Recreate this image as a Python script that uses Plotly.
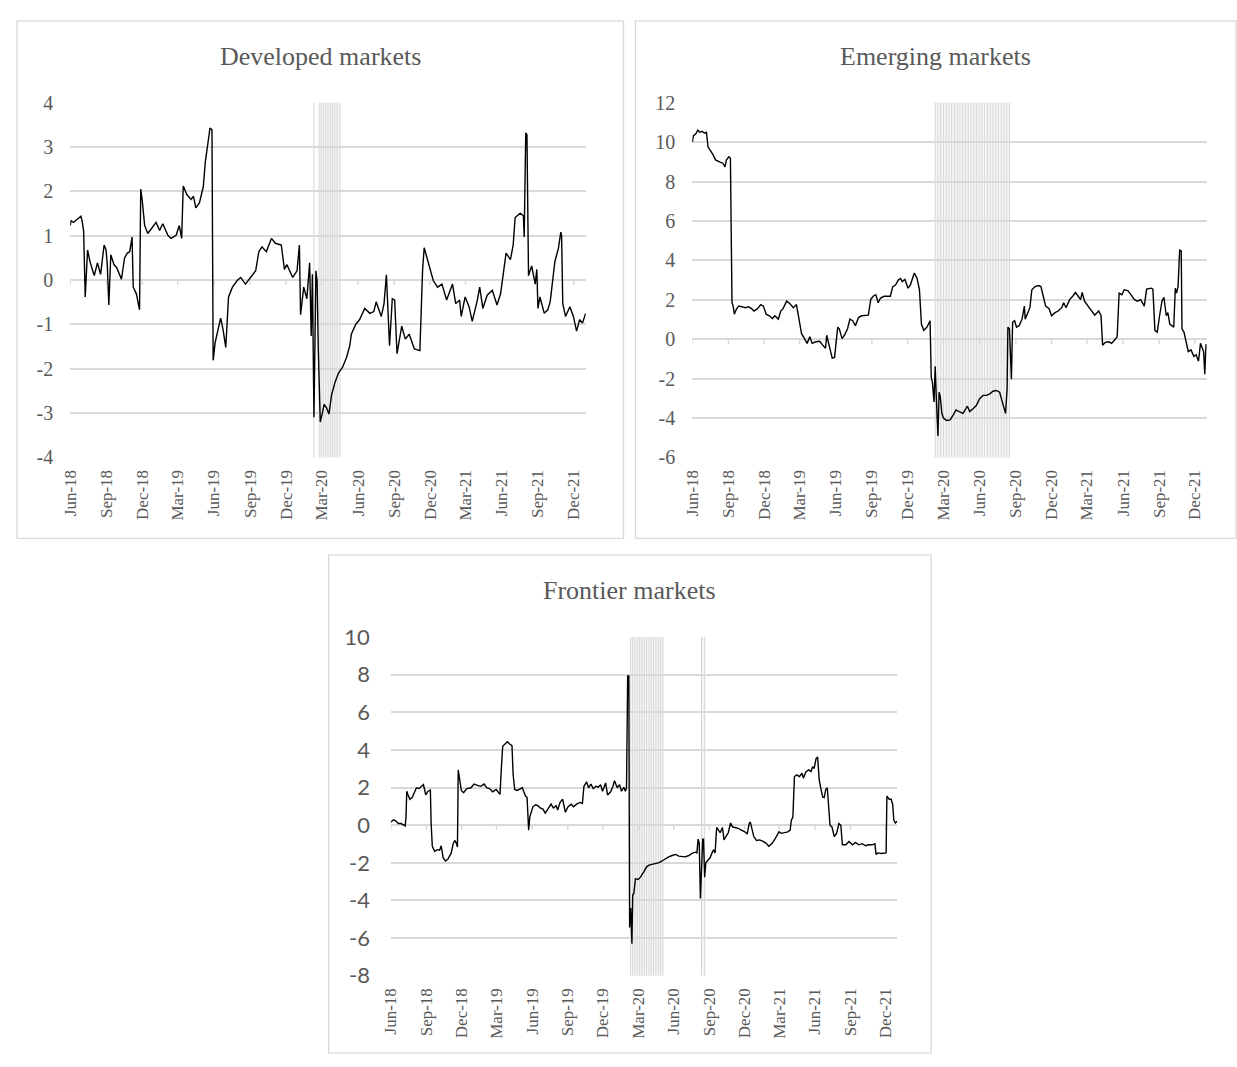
import plotly.graph_objects as go

# ---------------- data ----------------
dev_dates = ["2018-06-01","2018-06-03","2018-06-09","2018-06-22","2018-06-28","2018-07-01","2018-07-05","2018-07-09","2018-07-15","2018-07-21","2018-07-28","2018-08-01","2018-08-09","2018-08-17","2018-08-26","2018-08-31","2018-09-03","2018-09-07","2018-09-12","2018-09-20","2018-09-27","2018-10-09","2018-10-17","2018-10-24","2018-10-30","2018-11-05","2018-11-08","2018-11-16","2018-11-24","2018-11-27","2018-12-01","2018-12-07","2018-12-15","2018-12-24","2019-01-05","2019-01-14","2019-01-22","2019-02-04","2019-02-12","2019-02-25","2019-03-05","2019-03-11","2019-03-15","2019-03-24","2019-04-04","2019-04-10","2019-04-16","2019-04-25","2019-05-03","2019-05-05","2019-05-10","2019-05-16","2019-05-22","2019-05-27","2019-05-30","2019-06-04","2019-06-13","2019-06-18","2019-06-24","2019-07-01","2019-07-08","2019-07-18","2019-07-30","2019-08-08","2019-08-20","2019-09-02","2019-09-15","2019-09-23","2019-10-01","2019-10-12","2019-10-25","2019-11-04","2019-11-19","2019-11-27","2019-12-03","2019-12-18","2019-12-29","2020-01-04","2020-01-07","2020-01-15","2020-01-23","2020-01-30","2020-02-03","2020-02-06","2020-02-10","2020-02-15","2020-02-18","2020-02-21","2020-02-26","2020-03-01","2020-03-07","2020-03-13","2020-03-19","2020-03-26","2020-04-03","2020-04-12","2020-04-23","2020-05-03","2020-05-11","2020-05-15","2020-05-26","2020-06-05","2020-06-18","2020-07-01","2020-07-11","2020-07-17","2020-07-30","2020-08-06","2020-08-12","2020-08-20","2020-08-27","2020-09-02","2020-09-08","2020-09-20","2020-09-29","2020-10-09","2020-10-22","2020-11-05","2020-11-12","2020-11-16","2020-11-27","2020-12-09","2020-12-20","2020-12-31","2021-01-12","2021-01-27","2021-02-04","2021-02-14","2021-02-18","2021-02-28","2021-03-10","2021-03-18","2021-03-31","2021-04-06","2021-04-14","2021-04-25","2021-05-08","2021-05-20","2021-05-29","2021-06-04","2021-06-12","2021-06-23","2021-06-30","2021-07-05","2021-07-18","2021-07-26","2021-07-28","2021-08-01","2021-08-04","2021-08-08","2021-08-16","2021-08-25","2021-08-29","2021-09-01","2021-09-06","2021-09-17","2021-09-26","2021-10-02","2021-10-08","2021-10-14","2021-10-23","2021-10-29","2021-10-31","2021-11-03","2021-11-10","2021-11-21","2021-11-30","2021-12-08","2021-12-16","2021-12-23","2021-12-31"]
dev_vals = [1.23,1.34,1.30,1.41,1.44,1.34,1.10,-0.38,0.68,0.42,0.24,0.10,0.39,0.13,0.79,0.68,0.35,-0.56,0.57,0.35,0.28,0.02,0.50,0.61,0.64,0.97,-0.16,-0.31,-0.67,2.05,1.78,1.23,1.05,1.16,1.30,1.12,1.27,1.01,0.94,1.01,1.23,0.94,2.12,1.93,1.82,1.89,1.63,1.74,2.00,2.11,2.66,3.03,3.43,3.39,-1.81,-1.41,-1.04,-0.86,-1.11,-1.52,-0.38,-0.16,-0.01,0.06,-0.09,0.06,0.21,0.64,0.75,0.64,0.94,0.83,0.79,0.24,0.35,0.06,0.21,0.79,-0.78,-0.16,-0.42,0.39,-1.26,0.13,-3.09,0.21,-0.01,-1.55,-3.20,-3.05,-2.80,-2.88,-3.02,-2.58,-2.32,-2.10,-1.96,-1.74,-1.48,-1.22,-1.00,-0.89,-0.64,-0.75,-0.71,-0.49,-0.82,-0.53,0.12,-1.48,-0.42,-0.45,-1.66,-1.04,-1.33,-1.22,-1.55,-1.59,0.24,0.73,0.39,-0.01,-0.16,-0.09,-0.45,-0.09,-0.53,-0.45,-0.82,-0.38,-0.60,-0.93,-0.45,-0.16,-0.64,-0.34,-0.23,-0.56,-0.31,0.06,0.61,0.46,0.79,1.41,1.51,1.45,0.97,3.32,3.28,0.10,0.32,-0.09,0.24,-0.64,-0.38,-0.75,-0.67,-0.49,0.02,0.42,0.72,1.08,1.01,-0.53,-0.82,-0.60,-0.82,-1.15,-0.89,-0.97,-0.75]

emg_dates = ["2018-06-01","2018-06-04","2018-06-10","2018-06-15","2018-06-20","2018-06-26","2018-07-02","2018-07-07","2018-07-11","2018-07-17","2018-07-24","2018-07-30","2018-08-05","2018-08-12","2018-08-18","2018-08-23","2018-08-27","2018-09-02","2018-09-06","2018-09-08","2018-09-10","2018-09-13","2018-09-16","2018-09-21","2018-09-27","2018-10-05","2018-10-14","2018-10-22","2018-10-30","2018-11-05","2018-11-14","2018-11-22","2018-11-29","2018-12-06","2018-12-14","2018-12-22","2018-12-28","2019-01-06","2019-01-12","2019-01-18","2019-01-27","2019-02-04","2019-02-13","2019-02-21","2019-02-28","2019-03-06","2019-03-11","2019-03-20","2019-03-27","2019-04-02","2019-04-11","2019-04-21","2019-04-29","2019-05-06","2019-05-09","2019-05-16","2019-05-23","2019-05-29","2019-06-02","2019-06-06","2019-06-10","2019-06-17","2019-06-23","2019-07-01","2019-07-07","2019-07-14","2019-07-21","2019-07-29","2019-08-06","2019-08-15","2019-08-23","2019-08-29","2019-09-04","2019-09-11","2019-09-17","2019-09-23","2019-10-02","2019-10-10","2019-10-18","2019-10-24","2019-10-31","2019-11-07","2019-11-13","2019-11-17","2019-11-24","2019-12-02","2019-12-08","2019-12-12","2019-12-18","2019-12-25","2019-12-31","2020-01-05","2020-01-11","2020-01-19","2020-01-27","2020-01-30","2020-02-02","2020-02-06","2020-02-09","2020-02-12","2020-02-16","2020-02-19","2020-02-22","2020-02-26","2020-03-01","2020-03-09","2020-03-18","2020-03-26","2020-04-02","2020-04-10","2020-04-20","2020-05-01","2020-05-07","2020-05-16","2020-05-24","2020-06-01","2020-06-10","2020-06-18","2020-06-27","2020-07-05","2020-07-13","2020-07-22","2020-07-28","2020-08-06","2020-08-10","2020-08-12","2020-08-16","2020-08-19","2020-08-21","2020-08-24","2020-08-29","2020-09-03","2020-09-10","2020-09-17","2020-09-23","2020-09-25","2020-10-01","2020-10-07","2020-10-12","2020-10-20","2020-10-29","2020-11-04","2020-11-10","2020-11-16","2020-11-25","2020-12-01","2020-12-10","2020-12-18","2020-12-27","2021-01-01","2021-01-07","2021-01-16","2021-01-24","2021-01-31","2021-02-07","2021-02-13","2021-02-17","2021-02-23","2021-03-04","2021-03-12","2021-03-21","2021-03-31","2021-04-06","2021-04-10","2021-04-17","2021-04-25","2021-05-03","2021-05-12","2021-05-17","2021-05-22","2021-05-29","2021-06-04","2021-06-13","2021-06-21","2021-06-30","2021-07-08","2021-07-16","2021-07-25","2021-07-31","2021-08-12","2021-08-16","2021-08-21","2021-08-27","2021-09-02","2021-09-08","2021-09-13","2021-09-19","2021-09-23","2021-09-28","2021-10-03","2021-10-08","2021-10-12","2021-10-15","2021-10-19","2021-10-23","2021-10-27","2021-10-29","2021-11-03","2021-11-09","2021-11-14","2021-11-21","2021-11-28","2021-12-04","2021-12-10","2021-12-15","2021-12-19","2021-12-23","2021-12-26","2021-12-29"]
emg_vals = [10.00,10.33,10.42,10.61,10.50,10.55,10.45,10.50,9.76,9.59,9.35,9.10,9.02,8.97,8.93,8.74,9.10,9.26,9.18,5.97,1.85,1.68,1.27,1.52,1.68,1.65,1.60,1.65,1.55,1.43,1.55,1.76,1.68,1.27,1.19,1.05,1.19,1.02,1.43,1.55,1.93,1.81,1.60,1.76,1.02,0.28,0.12,-0.21,0.12,-0.21,-0.13,-0.10,-0.30,-0.46,0.20,-0.38,-0.96,-0.92,-0.30,0.61,0.53,0.03,0.20,0.53,1.02,0.94,0.69,1.10,1.19,1.19,1.22,2.01,2.18,2.26,1.85,2.09,2.18,2.18,2.18,2.67,2.75,3.00,3.08,2.92,3.03,2.59,2.75,3.00,3.36,3.08,2.51,0.77,0.45,0.61,0.94,-1.94,-2.19,-3.18,-1.37,-3.02,-4.91,-2.69,-2.93,-3.76,-4.00,-4.12,-4.09,-3.84,-3.59,-3.67,-3.76,-3.40,-3.67,-3.51,-3.35,-3.02,-2.85,-2.85,-2.77,-2.64,-2.60,-2.69,-3.18,-3.76,-2.52,0.61,0.53,-1.94,-2.03,0.86,0.94,0.61,0.69,1.02,1.68,1.02,1.35,1.60,2.51,2.67,2.72,2.67,2.18,1.68,1.55,1.19,1.35,1.43,1.60,1.85,1.60,2.01,2.18,2.37,2.18,2.01,2.37,1.93,1.68,1.48,1.22,1.43,1.19,-0.30,-0.16,-0.13,-0.21,0.00,0.12,2.34,2.26,2.51,2.47,2.26,2.01,1.93,2.01,1.68,2.54,2.59,2.54,0.45,0.36,1.19,1.93,2.13,1.19,1.35,0.77,0.69,0.61,2.59,2.34,2.67,4.52,4.48,0.53,0.36,-0.13,-0.63,-0.54,-0.87,-0.79,-1.12,-0.21,-0.46,-0.63,-1.78,-0.26]

fro_dates = ["2018-06-01","2018-06-08","2018-06-14","2018-06-20","2018-06-27","2018-07-03","2018-07-08","2018-07-10","2018-07-12","2018-07-15","2018-07-20","2018-07-26","2018-08-01","2018-08-06","2018-08-13","2018-08-19","2018-08-24","2018-08-27","2018-08-30","2018-09-05","2018-09-11","2018-09-13","2018-09-16","2018-09-22","2018-09-29","2018-10-05","2018-10-09","2018-10-14","2018-10-20","2018-10-26","2018-10-31","2018-11-04","2018-11-09","2018-11-13","2018-11-17","2018-11-20","2018-11-22","2018-11-26","2018-11-30","2018-12-06","2018-12-14","2018-12-25","2019-01-02","2019-01-11","2019-01-19","2019-01-28","2019-02-04","2019-02-11","2019-02-19","2019-02-28","2019-03-10","2019-03-14","2019-03-17","2019-03-23","2019-03-29","2019-04-04","2019-04-10","2019-04-13","2019-04-17","2019-04-23","2019-04-30","2019-05-07","2019-05-10","2019-05-15","2019-05-19","2019-05-21","2019-05-23","2019-05-26","2019-05-30","2019-06-03","2019-06-10","2019-06-16","2019-06-22","2019-06-29","2019-07-05","2019-07-12","2019-07-20","2019-07-26","2019-08-02","2019-08-06","2019-08-12","2019-08-19","2019-08-26","2019-09-02","2019-09-10","2019-09-16","2019-09-24","2019-10-03","2019-10-09","2019-10-13","2019-10-20","2019-10-25","2019-10-31","2019-11-06","2019-11-13","2019-11-19","2019-11-25","2019-11-30","2019-12-04","2019-12-08","2019-12-13","2019-12-21","2019-12-27","2019-12-31","2020-01-07","2020-01-13","2020-01-18","2020-01-24","2020-01-28","2020-01-31","2020-02-03","2020-02-06","2020-02-08","2020-02-11","2020-02-14","2020-02-16","2020-02-19","2020-02-23","2020-03-01","2020-03-07","2020-03-16","2020-03-23","2020-03-29","2020-04-07","2020-04-15","2020-04-24","2020-05-02","2020-05-11","2020-05-19","2020-05-28","2020-06-06","2020-06-14","2020-06-23","2020-07-01","2020-07-10","2020-07-18","2020-07-27","2020-07-31","2020-08-03","2020-08-06","2020-08-09","2020-08-12","2020-08-15","2020-08-17","2020-08-20","2020-08-23","2020-08-27","2020-09-03","2020-09-08","2020-09-12","2020-09-16","2020-09-20","2020-09-25","2020-09-29","2020-10-05","2020-10-09","2020-10-14","2020-10-20","2020-10-26","2020-10-31","2020-11-06","2020-11-15","2020-11-23","2020-12-02","2020-12-08","2020-12-13","2020-12-16","2020-12-20","2020-12-25","2021-01-01","2021-01-09","2021-01-18","2021-01-25","2021-02-02","2021-02-11","2021-02-19","2021-02-28","2021-03-06","2021-03-14","2021-03-23","2021-03-29","2021-04-01","2021-04-05","2021-04-09","2021-04-15","2021-04-22","2021-04-29","2021-05-02","2021-05-09","2021-05-16","2021-05-22","2021-05-26","2021-05-30","2021-06-04","2021-06-08","2021-06-12","2021-06-16","2021-06-21","2021-06-25","2021-06-29","2021-07-03","2021-07-08","2021-07-10","2021-07-15","2021-07-21","2021-07-27","2021-08-02","2021-08-07","2021-08-11","2021-08-20","2021-08-28","2021-09-06","2021-09-14","2021-09-23","2021-10-01","2021-10-10","2021-10-18","2021-10-27","2021-11-03","2021-11-06","2021-11-11","2021-11-20","2021-11-28","2021-12-02","2021-12-04","2021-12-10","2021-12-15","2021-12-19","2021-12-22","2021-12-26","2021-12-30"]
fro_vals = [0.17,0.29,0.22,0.09,0.09,0.00,-0.03,0.43,1.81,1.64,1.38,1.47,1.73,1.99,1.95,2.07,2.16,1.90,1.61,1.81,1.87,0.09,-1.12,-1.38,-1.30,-1.33,-1.09,-1.73,-1.90,-1.81,-1.61,-1.47,-0.98,-0.81,-0.95,-1.16,2.94,2.33,1.85,1.73,1.95,1.99,2.19,2.12,2.07,2.19,1.99,1.95,1.78,1.90,1.64,3.20,4.20,4.32,4.44,4.32,4.23,2.68,1.90,1.85,1.90,1.99,1.81,1.55,1.47,0.35,-0.26,0.43,0.69,0.98,1.09,1.04,0.92,0.86,0.64,0.86,1.12,0.92,1.04,0.81,1.21,1.38,0.69,0.98,1.12,0.98,1.12,1.21,1.16,2.07,2.30,1.99,2.19,1.95,2.07,2.02,2.16,1.81,1.99,2.25,1.61,1.78,2.07,2.37,1.99,2.16,1.81,2.02,1.81,1.99,7.94,7.94,-5.44,-4.40,-6.30,-3.71,-3.63,-2.85,-2.88,-2.76,-2.47,-2.21,-2.12,-2.07,-2.02,-1.99,-1.90,-1.78,-1.68,-1.61,-1.55,-1.64,-1.64,-1.68,-1.61,-1.50,-1.43,-1.47,-0.74,-0.95,-3.89,-2.68,-0.74,-0.74,-2.76,-1.99,-1.90,-1.73,-1.47,-1.30,-1.47,-0.12,-0.26,-0.40,-0.12,-0.78,-0.60,-0.40,0.12,-0.09,-0.12,-0.17,-0.26,-0.35,-0.47,0.09,0.17,-0.26,-0.60,-0.81,-0.78,-0.86,-0.95,-1.12,-0.95,-0.69,-0.35,-0.43,-0.40,-0.35,-0.26,0.26,0.43,2.59,2.68,2.59,2.76,2.50,2.85,2.94,2.85,3.11,3.02,3.54,3.63,2.42,1.99,1.50,1.47,1.90,1.99,0.78,0.00,-0.09,-0.60,-0.43,0.09,0.00,-1.04,-1.04,-0.86,-1.04,-0.92,-1.04,-0.98,-1.09,-1.04,-1.04,-0.98,-1.55,-1.47,-1.50,-1.47,-1.47,1.55,1.38,1.38,1.12,0.26,0.12,0.22]

tick_dates = ["2018-06-01","2018-09-01","2018-12-01","2019-03-01","2019-06-01","2019-09-01","2019-12-01",
              "2020-03-01","2020-06-01","2020-09-01","2020-12-01","2021-03-01","2021-06-01","2021-09-01","2021-12-01"]
tick_text = ["Jun-18","Sep-18","Dec-18","Mar-19","Jun-19","Sep-19","Dec-19",
             "Mar-20","Jun-20","Sep-20","Dec-20","Mar-21","Jun-21","Sep-21","Dec-21"]
x_range = ["2018-06-01", "2021-12-31 10:00"]

dev_yticks = [4, 3, 2, 1, 0, -1, -2, -3, -4]
dev_ylabels = ["4", "3", "2", "1", "0", "-1", "-2", "-3", "-4"]
emg_yticks = [12, 10, 8, 6, 4, 2, 0, -2, -4, -6]
emg_ylabels = ["12", "10", "8", "6", "4", "2", "0", "-2", "-4", "-6"]
fro_yticks = [10, 8, 6, 4, 2, 0, -2, -4, -6, -8]
fro_ylabels = ["10", "8", "6", "4", "2", "0", "-2", "-4", "-6", "-8"]

dev_shade = ["2020-02-10","2020-02-23","2020-02-28","2020-03-05","2020-03-11","2020-03-17","2020-03-23",
             "2020-03-28","2020-04-03","2020-04-09","2020-04-16"]
dev_bands = [("2020-02-23","2020-04-16")]
emg_shade = ["2020-02-09","2020-02-16","2020-02-23","2020-03-01","2020-03-08","2020-03-15","2020-03-22",
             "2020-03-29","2020-04-05","2020-04-12","2020-04-19","2020-04-26","2020-05-03","2020-05-10",
             "2020-05-17","2020-05-24","2020-05-31","2020-06-07","2020-06-14","2020-06-21","2020-06-28",
             "2020-07-05","2020-07-12","2020-07-19","2020-07-26","2020-08-02","2020-08-09","2020-08-16"]
emg_bands = [("2020-02-09","2020-08-16")]
fro_shade = ["2020-02-10","2020-02-16","2020-02-22","2020-02-28","2020-03-05","2020-03-11","2020-03-17",
             "2020-03-23","2020-03-29","2020-04-04","2020-04-10","2020-04-16","2020-04-22","2020-04-28",
             "2020-05-04","2020-08-12","2020-08-20"]
fro_bands = [("2020-02-10","2020-05-04"),("2020-08-12","2020-08-20")]

titles = ["Developed markets", "Emerging markets", "Frontier markets"]

# ---------------- layout geometry (pixels) ----------------
W, H = 1237, 1067
GRAY = "#595959"
GRID = "#d9d9d9"
SERIF = "Liberation Serif, Times New Roman, serif"
SANS = "Lato, Carlito, Calibri, sans-serif"

panels = [
    dict(dates=dev_dates, vals=dev_vals, yr=[-4, 4], yt=dev_yticks, yl=dev_ylabels, plot=(61.7, 91, 581, 455),
         box=(8, 7, 619, 538), title_y=44, shade=dev_shade, bands=dev_bands,
         yfont=dict(family=SERIF, size=20, color=GRAY), ystand=16),
    dict(dates=emg_dates, vals=emg_vals, yr=[-6, 12], yt=emg_yticks, yl=emg_ylabels, plot=(688.3, 91, 1206.7, 455),
         box=(631, 7, 1236, 538), title_y=44, shade=emg_shade, bands=emg_bands,
         yfont=dict(family=SERIF, size=20, color=GRAY), ystand=16),
    dict(dates=fro_dates, vals=fro_vals, yr=[-8, 10], yt=fro_yticks, yl=fro_ylabels, plot=(384.7, 639.3, 895, 986.7),
         box=(322, 555, 929, 1066), title_y=591, shade=fro_shade, bands=fro_bands,
         yfont=dict(family=SANS, size=22, color=GRAY), ystand=20),
]

fig = go.Figure()
shapes = []
annotations = []
layout = {}

for i, p in enumerate(panels):
    k = "" if i == 0 else str(i + 1)
    xa, ya = "x" + k, "y" + k
    x0, y0, x1, y1 = p["plot"]
    fig.add_trace(go.Scatter(x=p["dates"], y=p["vals"], mode="lines",
                             line=dict(color="black", width=1.4), xaxis=xa, yaxis=ya,
                             showlegend=False, hoverinfo="skip"))
    layout["xaxis" + k] = dict(domain=[x0 / W, x1 / W], anchor=ya, type="date", range=x_range,
                               tickvals=tick_dates, ticktext=tick_text, tickangle=-90,
                               tickfont=dict(family=SERIF, size=17, color=GRAY),
                               showgrid=False, zeroline=False, showline=False, ticks="",
                               ticklabelstandoff=8)
    layout["yaxis" + k] = dict(domain=[1 - y1 / H, 1 - y0 / H], anchor=xa, range=p["yr"],
                               tickvals=p["yt"], ticktext=p["yl"], showgrid=True, gridcolor=GRID,
                               gridwidth=1.5, zeroline=False, showline=False, ticks="",
                               tickfont=p["yfont"], ticklabelstandoff=p["ystand"])
    # shaded crisis bands and lines
    for a, b in p["bands"]:
        shapes.append(dict(type="rect", xref=xa, yref=ya + " domain", x0=a, x1=b, y0=0, y1=1,
                           fillcolor="#f6f6f6", line=dict(width=0), layer="below"))
    for d in p["shade"]:
        shapes.append(dict(type="line", xref=xa, yref=ya + " domain", x0=d, x1=d, y0=0, y1=1,
                           line=dict(color="#d6d6d6", width=1), layer="below"))
    # axis tick marks on the zero line
    ppu = (y1 - y0) / (p["yr"][1] - p["yr"][0])
    for d in tick_dates:
        shapes.append(dict(type="line", xref=xa, yref=ya, x0=d, x1=d, y0=0, y1=-5 / ppu,
                           line=dict(color=GRID, width=1.5), layer="below"))
    # chart box
    bx0, by0, bx1, by1 = p["box"]
    shapes.append(dict(type="rect", xref="paper", yref="paper", x0=bx0 / W, x1=bx1 / W,
                       y0=1 - by1 / H, y1=1 - by0 / H, line=dict(color=GRID, width=1.3),
                       fillcolor="rgba(0,0,0,0)"))
    annotations.append(dict(text=titles[i], xref="paper", yref="paper", x=(bx0 + bx1) / 2 / W,
                            y=1 - p["title_y"] / H, xanchor="center", yanchor="middle",
                            showarrow=False, font=dict(family=SERIF, size=26, color=GRAY)))

fig.update_layout(width=W, height=H, margin=dict(l=0, r=0, t=0, b=0),
                  paper_bgcolor="white", plot_bgcolor="white",
                  shapes=shapes, annotations=annotations, **layout)
fig.write_html("out.html", config={"displayModeBar": False},
               post_script="document.body.style.margin='0';document.body.style.overflow='hidden';")
